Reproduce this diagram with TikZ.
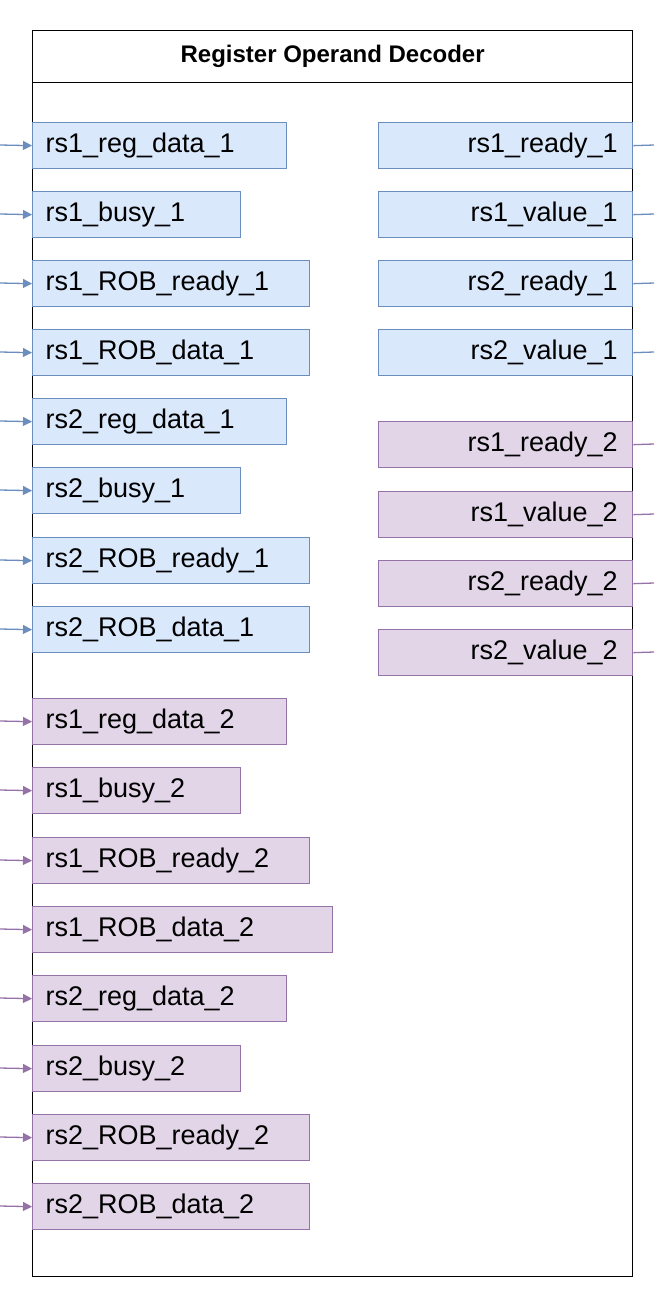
\documentclass[tikz,border=0pt]{standalone}
\usepackage{fontspec}
\setmainfont{Liberation Sans}
\usetikzlibrary{arrows.meta}
\definecolor{bluefill}{HTML}{DAE8FC}\definecolor{blueline}{HTML}{6C8EBF}
\definecolor{purpfill}{HTML}{E1D5E7}\definecolor{purpline}{HTML}{9673A6}
\begin{document}
\begin{tikzpicture}[x=1pt,y=-1pt,
  lbox/.style={draw, line width=1.3pt, anchor=north west, minimum height=46pt, inner xsep=13pt, inner ysep=0pt, align=left, font=\fontsize{27}{30}\selectfont},
  rbox/.style={draw, line width=1.3pt, anchor=north west, minimum height=46pt, inner xsep=15pt, inner ysep=0pt, text width=224pt, align=right, font=\fontsize{27}{30}\selectfont},
  blue/.style={fill=bluefill, draw=blueline}, purp/.style={fill=purpfill, draw=purpline},
  arr/.style={line width=1.3pt, -{Triangle[length=9pt,width=9pt]}},
  outline/.style={line width=1.3pt}]
\useasboundingbox (0,0) rectangle (654,1310);
\node[draw, line width=1.3pt, anchor=north west, minimum width=600pt, minimum height=1246pt, inner sep=0pt] (main) at (32,30) {};
\node[draw, line width=1.3pt, anchor=north west, minimum width=600pt, minimum height=52pt, inner sep=0pt, font=\bfseries\fontsize{24}{28}\selectfont] (title) at (32,30) {Register Operand Decoder};
\foreach \n/\t/\w/\y/\s in {
 a1/rs1\_reg\_data\_1/254/122/blue, a2/rs1\_busy\_1/208/191/blue, a3/rs1\_ROB\_ready\_1/277/260/blue, a4/rs1\_ROB\_data\_1/277/329/blue,
 a5/rs2\_reg\_data\_1/254/398/blue, a6/rs2\_busy\_1/208/467/blue, a7/rs2\_ROB\_ready\_1/277/537/blue, a8/rs2\_ROB\_data\_1/277/606/blue,
 b1/rs1\_reg\_data\_2/254/698/purp, b2/rs1\_busy\_2/208/767/purp, b3/rs1\_ROB\_ready\_2/277/837/purp, b4/rs1\_ROB\_data\_2/300/906/purp,
 b5/rs2\_reg\_data\_2/254/975/purp, b6/rs2\_busy\_2/208/1045/purp, b7/rs2\_ROB\_ready\_2/277/1114/purp, b8/rs2\_ROB\_data\_2/277/1183/purp}{
  \pgfmathsetmacro{\tw}{\w-26}
  \node[lbox, \s, text width=\tw pt] (\n) at (32,\y) {\t};
  \coordinate (\n-in) at (0,\y+23);
  \draw[arr, draw=\s line] (\n-in) -- (\n.west);
}
\foreach \n/\t/\y/\s in {
 c1/rs1\_ready\_1/122/blue, c2/rs1\_value\_1/191/blue, c3/rs2\_ready\_1/260/blue, c4/rs2\_value\_1/329/blue,
 d1/rs1\_ready\_2/421/purp, d2/rs1\_value\_2/491/purp, d3/rs2\_ready\_2/560/purp, d4/rs2\_value\_2/629/purp}{
  \node[rbox, \s] (\n) at (378,\y) {\t};
  \coordinate (\n-out) at (654,\y+23);
  \draw[outline, draw=\s line] (\n.east) -- (\n-out);
}
\end{tikzpicture}
\end{document}
